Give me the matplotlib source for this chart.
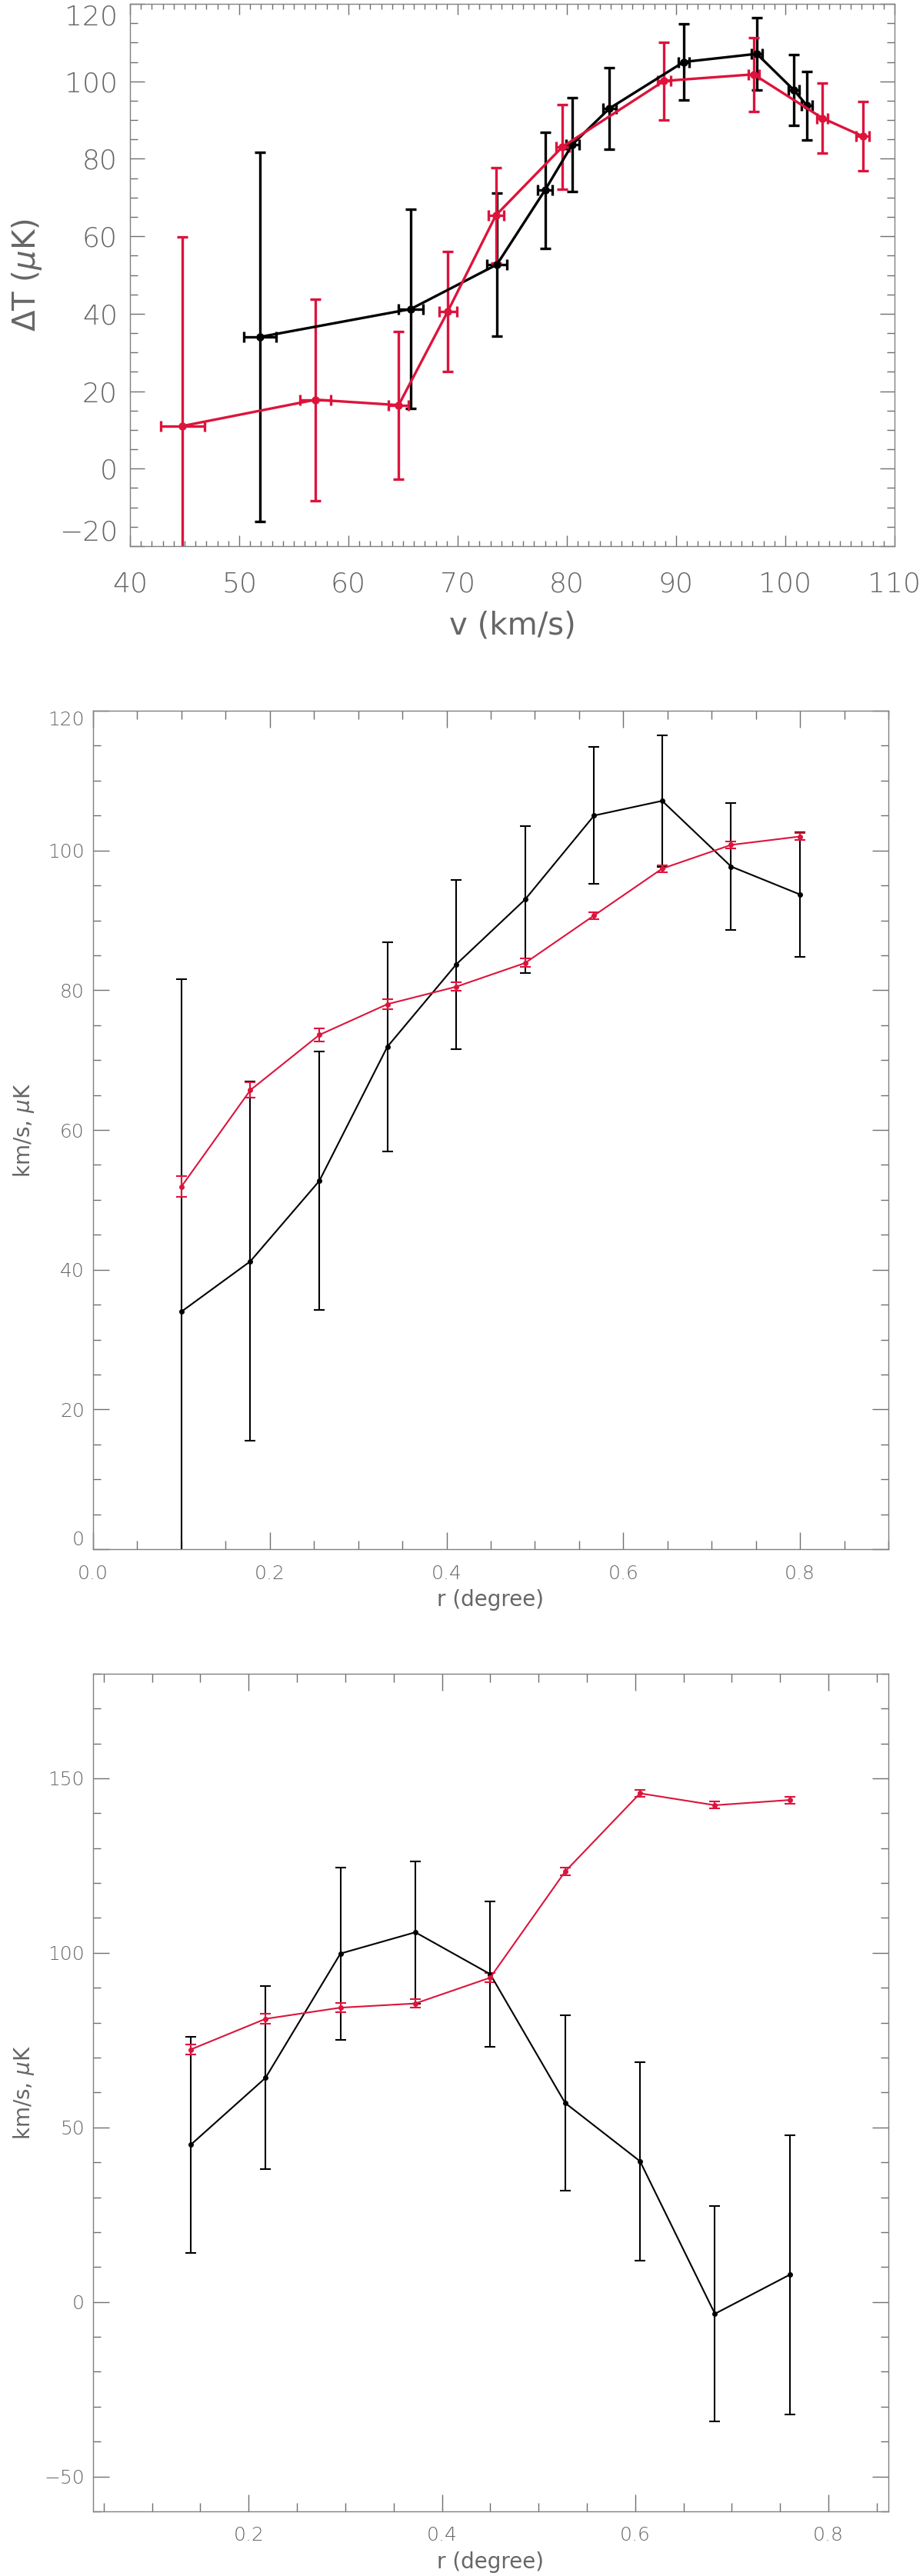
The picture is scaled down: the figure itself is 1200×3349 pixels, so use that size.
import numpy as np
import matplotlib
matplotlib.use('Agg')
import matplotlib.pyplot as plt
from matplotlib.ticker import MultipleLocator, FormatStrFormatter

plt.rcParams['font.family'] = ['DejaVu Sans']
plt.rcParams['font.weight'] = 'light'
plt.rcParams['mathtext.fontset'] = 'dejavusans'

RED = '#dc143c'
GREY = '#666666'

# panel 1: dT vs v
v_black = [51.9, 65.7, 73.6, 78.0, 80.5, 83.9, 90.7, 97.4, 100.8, 102.0]
v_black_err = [1.5, 1.1, 0.9, 0.7, 0.6, 0.6, 0.5, 0.5, 0.5, 0.5]
dT_black = [34.0, 41.2, 52.7, 71.9, 83.7, 93.0, 105.0, 107.1, 97.7, 93.7]
dT_black_err = [47.6, 25.7, 18.5, 15.0, 12.1, 10.5, 9.8, 9.4, 9.1, 8.9]

v_red = [44.8, 57.0, 64.6, 69.1, 73.5, 79.6, 88.9, 97.1, 103.4, 107.1]
v_red_err = [2.0, 1.4, 0.9, 0.8, 0.7, 0.6, 0.6, 0.5, 0.5, 0.6]
dT_red = [11.0, 17.8, 16.4, 40.6, 65.4, 83.1, 100.1, 101.8, 90.5, 85.8]
dT_red_err = [48.8, 26.0, 19.1, 15.5, 12.4, 10.9, 10.0, 9.5, 9.1, 8.9]

# panel 2: profiles vs r
r2 = [0.100, 0.178, 0.256, 0.333, 0.411, 0.489, 0.567, 0.644, 0.722, 0.800]

# panel 3
r3 = [0.140, 0.2175, 0.295, 0.3725, 0.450, 0.5275, 0.605, 0.6825, 0.760]
dT3 = [45.0, 64.2, 99.8, 105.9, 93.9, 57.0, 40.3, -3.4, 7.8]
dT3_err = [31.0, 26.2, 24.7, 20.4, 20.8, 25.1, 28.4, 30.9, 40.0]
v3 = [72.3, 81.1, 84.3, 85.5, 92.9, 123.3, 145.7, 142.3, 143.8]
v3_err = [1.5, 1.4, 1.3, 1.2, 1.3, 1.1, 1.1, 1.0, 1.0]


def style_axes(ax, fs, xlen, ylen, xpad, ypad):
    for s in ax.spines.values():
        s.set_color('#808080')
        s.set_linewidth(1.0)
    ax.tick_params(which='both', direction='in', top=True, right=True,
                   colors='#707070', labelcolor=GREY, labelsize=fs, width=1.0)
    ax.tick_params(axis='x', which='major', length=xlen, pad=xpad)
    ax.tick_params(axis='x', which='minor', length=xlen / 2)
    ax.tick_params(axis='y', which='major', length=ylen, pad=ypad)
    ax.tick_params(axis='y', which='minor', length=ylen / 2)


def clamp_end_labels(ax):
    # IDL keeps the end labels inside the axis range
    ticks = ax.yaxis.get_major_ticks()
    ticks[0].label1.set_verticalalignment('bottom')
    ticks[-1].label1.set_verticalalignment('top')


fig = plt.figure(figsize=(12, 33.49), dpi=100)

# ---- panel 1
ax1 = fig.add_axes([0.1408, 0.7880, 0.8283, 0.2105])
ax1.errorbar(v_black, dT_black, xerr=v_black_err, yerr=dT_black_err, color='black',
             lw=2.4, marker='o', ms=6.5, capsize=5, capthick=2.4, elinewidth=2.4)
ax1.errorbar(v_red, dT_red, xerr=v_red_err, yerr=dT_red_err, color=RED,
             lw=2.4, marker='o', ms=6.5, capsize=5, capthick=2.4, elinewidth=2.4)
ax1.set_xlim(40, 110)
ax1.set_ylim(-20, 120)
ax1.set_xticks(np.arange(40, 111, 10))
ax1.set_yticks(np.arange(-20, 121, 20))
ax1.xaxis.set_minor_locator(MultipleLocator(1))
ax1.yaxis.set_minor_locator(MultipleLocator(5))
style_axes(ax1, 26, 10, 14, 23.5, 11.5)
clamp_end_labels(ax1)
ax1.set_xlabel('v (km/s)', fontsize=29, color=GREY)
ax1.set_ylabel(r'ΔT ($\mu$K)', fontsize=29, color=GREY)
ax1.xaxis.set_label_coords(0.5, -0.118)
ax1.yaxis.set_label_coords(-0.113, 0.5)

# ---- panel 2
ax2 = fig.add_axes([0.1008, 0.3986, 0.8617, 0.3255])
ax2.errorbar(r2, dT_black, yerr=dT_black_err, color='black', lw=1.5, marker='o',
             ms=4, capsize=5, capthick=1.5, elinewidth=1.5)
ax2.errorbar(r2, v_black, yerr=v_black_err, color=RED, lw=1.5, marker='o',
             ms=4, capsize=5, capthick=1.5, elinewidth=1.5)
ax2.set_xlim(0, 0.9)
ax2.set_ylim(0, 120)
ax2.set_xticks(np.arange(0, 0.81, 0.2))
ax2.set_yticks(np.arange(0, 121, 20))
ax2.xaxis.set_minor_locator(MultipleLocator(0.05))
ax2.yaxis.set_minor_locator(MultipleLocator(5))
ax2.xaxis.set_major_formatter(FormatStrFormatter('%.1f'))
style_axes(ax2, 18, 16, 15, 14, 8)
clamp_end_labels(ax2)
ax2.set_xlabel('r (degree)', fontsize=20, color=GREY)
ax2.set_ylabel(r'km/s, $\mu$K', fontsize=20, color=GREY)
ax2.xaxis.set_label_coords(0.5, -0.0477)
ax2.yaxis.set_label_coords(-0.0716, 0.5)

# ---- panel 3
ax3 = fig.add_axes([0.1008, 0.0251, 0.8617, 0.3252])
ax3.errorbar(r3, dT3, yerr=dT3_err, color='black', lw=1.5, marker='o',
             ms=4, capsize=5, capthick=1.5, elinewidth=1.5)
ax3.errorbar(r3, v3, yerr=v3_err, color=RED, lw=1.5, marker='o',
             ms=4, capsize=5, capthick=1.5, elinewidth=1.5)
ax3.set_xlim(0.039, 0.862)
ax3.set_ylim(-60, 180)
ax3.set_xticks(np.arange(0.2, 0.81, 0.2))
ax3.set_yticks(np.arange(-50, 151, 50))
ax3.xaxis.set_minor_locator(MultipleLocator(0.05))
ax3.yaxis.set_minor_locator(MultipleLocator(10))
ax3.xaxis.set_major_formatter(FormatStrFormatter('%.1f'))
style_axes(ax3, 18, 16, 15, 14, 8)
ax3.set_xlabel('r (degree)', fontsize=20, color=GREY)
ax3.set_ylabel(r'km/s, $\mu$K', fontsize=20, color=GREY)
ax3.xaxis.set_label_coords(0.5, -0.0477)
ax3.yaxis.set_label_coords(-0.0716, 0.5)

fig.savefig('out.png', dpi=100)
